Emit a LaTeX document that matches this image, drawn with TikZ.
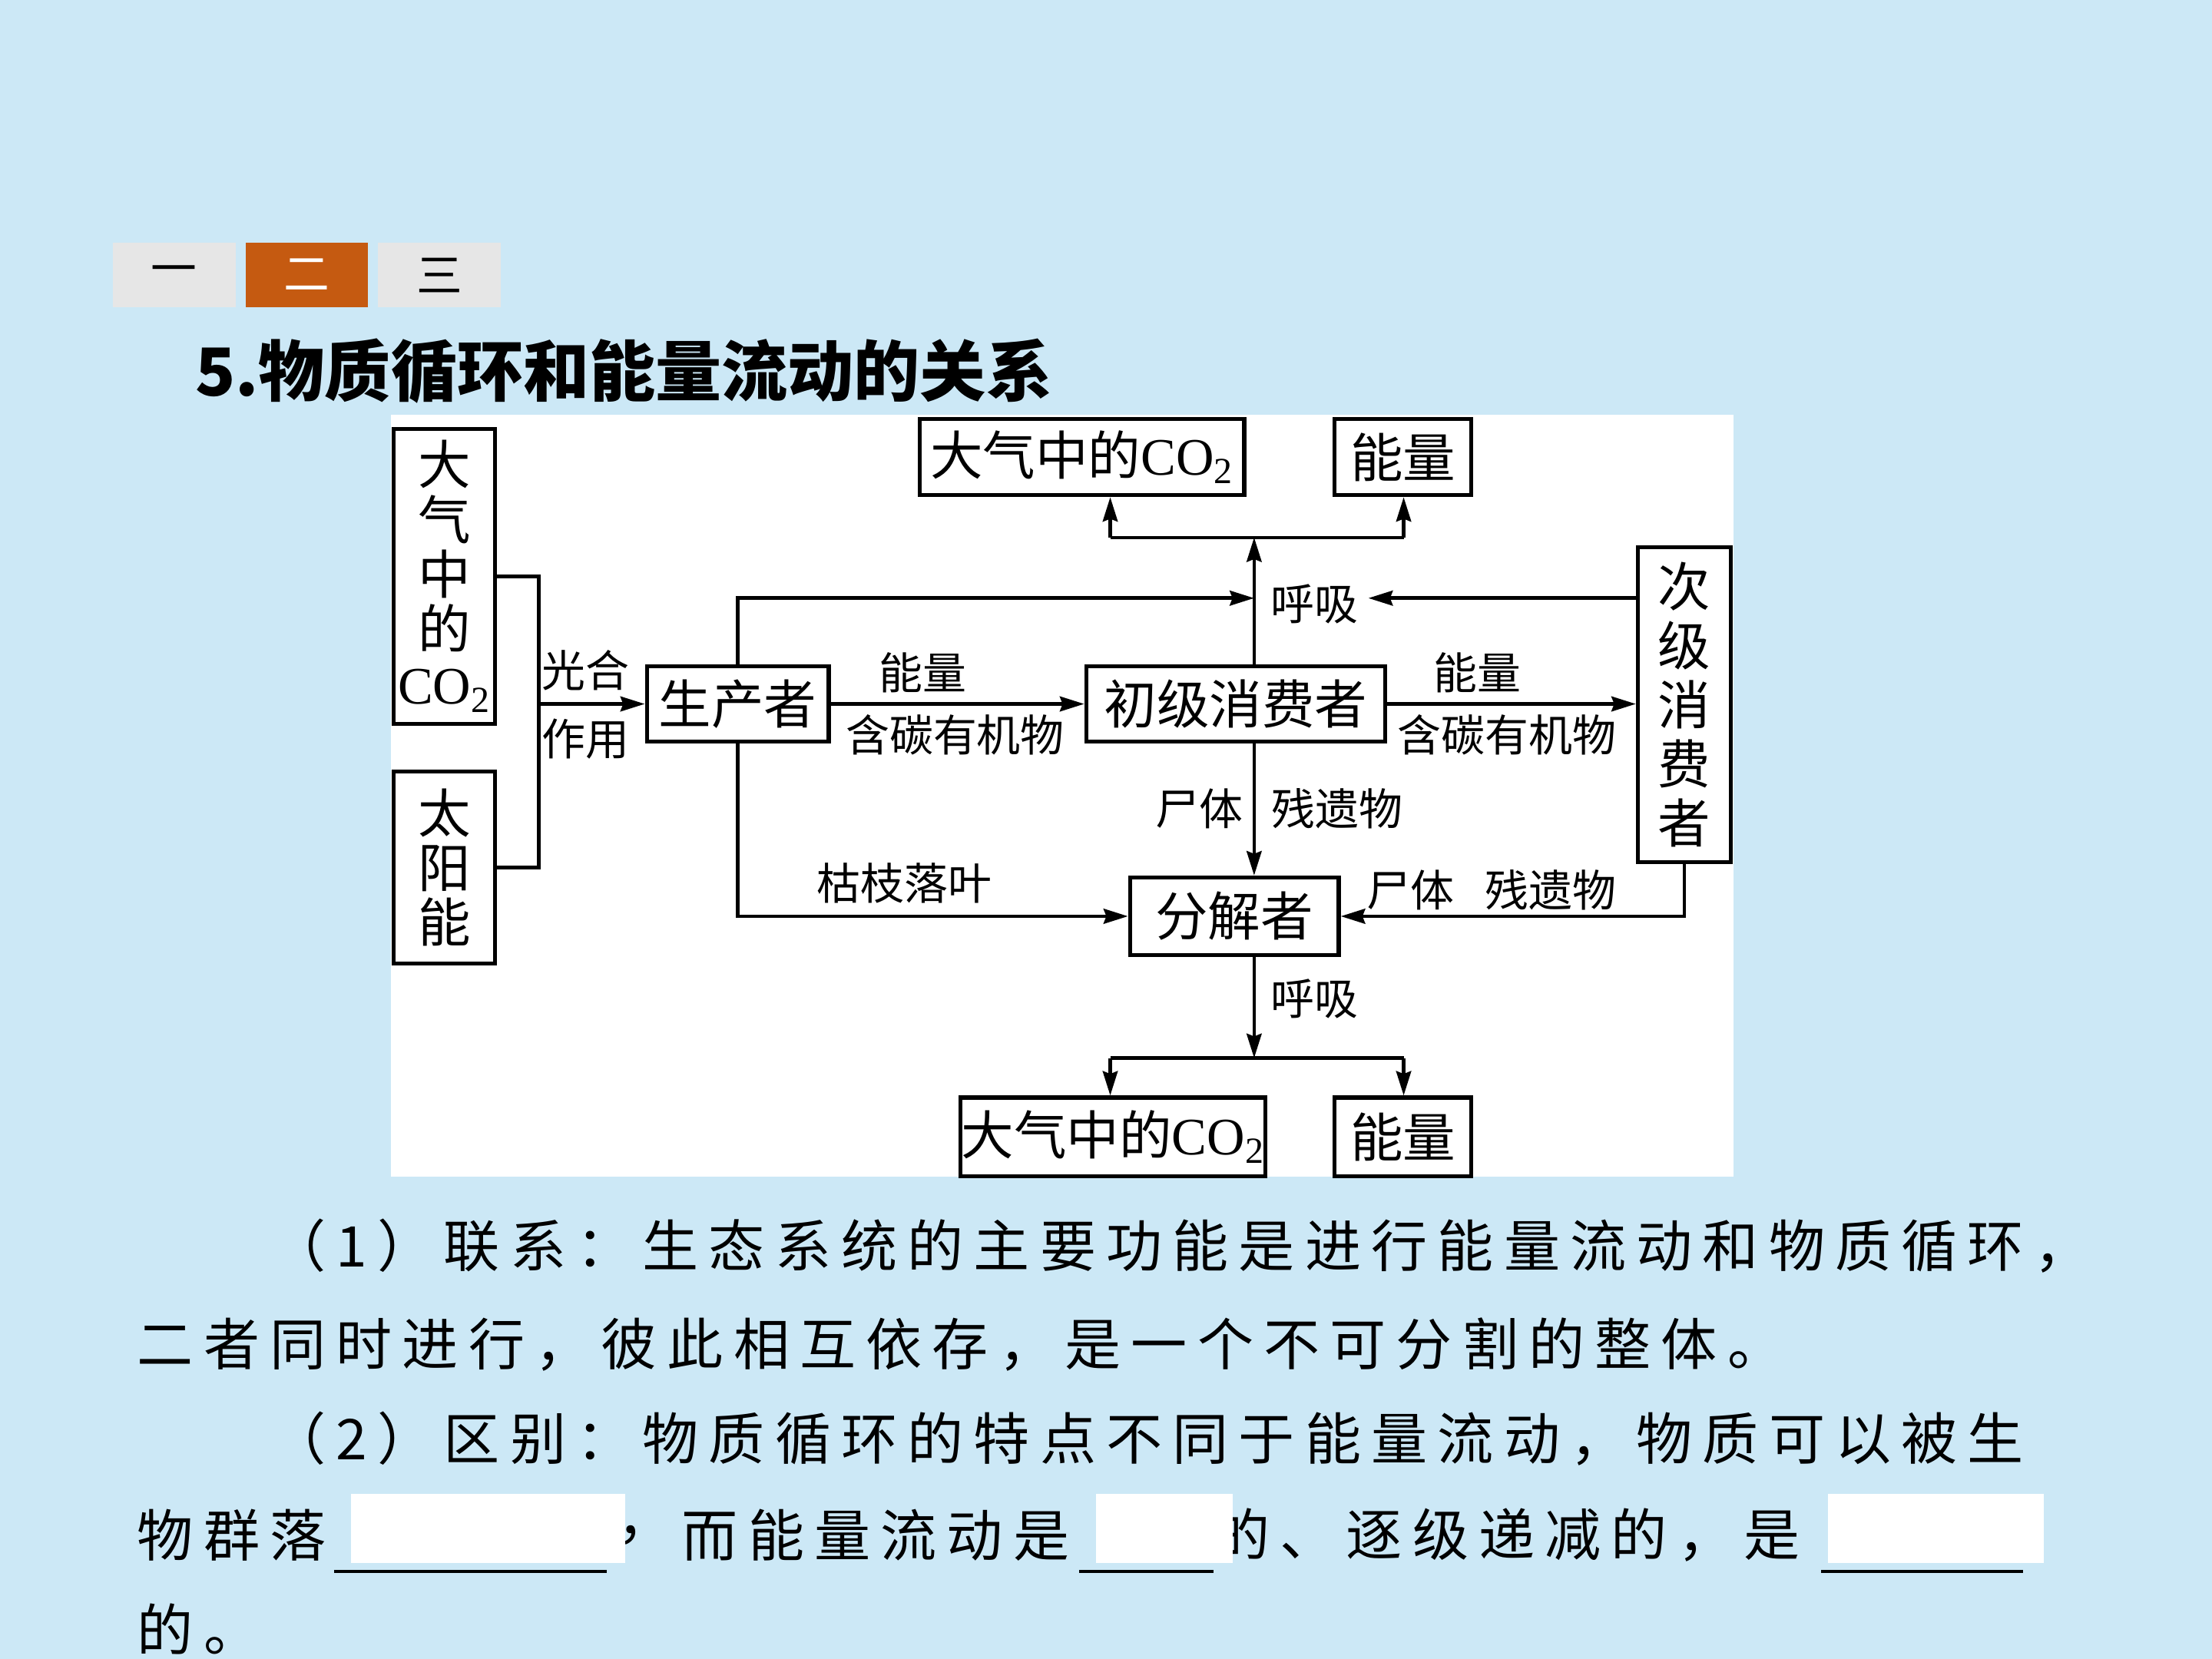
\documentclass[tikz,border=0pt]{standalone}
\usepackage{fontspec}
\setmainfont{Noto Sans CJK SC}
\newfontfamily\latfont{Liberation Serif}
\newfontfamily\bodyfont[LetterSpace=18]{Noto Sans CJK SC}
\usetikzlibrary{arrows.meta,calc}
\definecolor{slideBlue}{RGB}{204,232,246}
\definecolor{tabOrange}{RGB}{197,90,17}
\definecolor{tabGray}{RGB}{230,230,230}
\newcommand\pxu{0.18367mm}
\newcommand\cotwo{{\latfont CO\textsubscript{2}}}
\tikzset{
  blk/.style={draw,line width=1.5pt,fill=white,inner sep=0pt,align=center,
              font=\fontsize{19.5}{20.3}\selectfont},
  lbl/.style={inner sep=0pt,font=\fontsize{16.2}{17}\selectfont},
  link/.style={line width=1.3pt},
  arr/.style={-{Stealth[length=9pt,width=5.5pt,inset=1pt]},line width=1.3pt},
  tabbox/.style={minimum width=87*\pxu,minimum height=46*\pxu,inner sep=0pt,
                 font=\fontsize{17}{17}\selectfont},
  para/.style={anchor=west,inner sep=0pt,font=\bodyfont\fontsize{20.8}{21}\selectfont},
}
\begin{document}
\begin{tikzpicture}[x=\pxu,y=-\pxu]
\fill[slideBlue] (0,0) rectangle (1568,1176);
\useasboundingbox (0,0) rectangle (1568,1176);

% tabs and title
\node[tabbox,fill=tabGray] (tab1) at (123.5,195) {一};
\node[tabbox,fill=tabOrange,text=white] (tab2) at (217.5,195) {二};
\node[tabbox,fill=tabGray] (tab3) at (311.5,195) {三};
\node[anchor=west,inner sep=0pt,font=\bfseries\fontsize{24.5}{25}\selectfont] (title) at (138,263) {5.物质循环和能量流动的关系};

% diagram
\fill[white] (277,294) rectangle (1229,834);
\node[blk,minimum width=72*\pxu,minimum height=209*\pxu] (co2L) at (315,408.5) {大\\气\\中\\的\\\cotwo};
\node[blk,minimum width=72*\pxu,minimum height=136*\pxu] (sun) at (315,615) {太\\阳\\能};
\node[blk,minimum width=129*\pxu,minimum height=53*\pxu] (prod) at (523,499) {生产者};
\node[blk,minimum width=212*\pxu,minimum height=53*\pxu] (prim) at (876,499) {初级消费者};
\node[blk,minimum width=66*\pxu,minimum height=223*\pxu,font=\fontsize{19.5}{21.9}\selectfont] (sec) at (1194,499.5) {次\\级\\消\\费\\者};
\node[blk,minimum width=148*\pxu,minimum height=55*\pxu] (dec) at (875,649.5) {分解者};
\node[blk,minimum width=230*\pxu,minimum height=54*\pxu] (co2T) at (767,324) {大气中的\cotwo};
\node[blk,minimum width=97*\pxu,minimum height=54*\pxu] (engT) at (994.5,324) {能量};
\node[blk,minimum width=216*\pxu,minimum height=56*\pxu] (co2B) at (789,806) {大气中的\cotwo};
\node[blk,minimum width=97*\pxu,minimum height=56*\pxu] (engB) at (994.5,806) {能量};

\coordinate (brk) at (382,499);
\coordinate (upJ) at (889,381);
\coordinate (upL) at (787,381);
\coordinate (upR) at (995,381);
\coordinate (dnJ) at (889,750);
\coordinate (dnL) at (787,750);
\coordinate (dnR) at (995,750);
\coordinate (resp) at (889,424);
\coordinate (respR) at (970,424);

\node[lbl] (gh) at (415,475) {光合};
\node[lbl] (zy) at (415,524) {作用};
\node[lbl] (e1) at (654,477) {能量};
\node[lbl] (c1) at (677,521) {含碳有机物};
\node[lbl] (e2) at (1047,477) {能量};
\node[lbl] (c2) at (1068,521) {含碳有机物};
\node[lbl] (hx1) at (932,428) {呼吸};
\node[lbl] (st1) at (850,573) {尸体};
\node[lbl] (cy1) at (948,573) {残遗物};
\node[lbl] (kz) at (641,626) {枯枝落叶};
\node[lbl] (st2) at (1000,631) {尸体};
\node[lbl] (cy2) at (1099,631) {残遗物};
\node[lbl] (hx2) at (932,708) {呼吸};

\draw[link] (co2L.east) -| (brk) |- (sun.east);
\draw[arr] (brk) -- (prod.west);
\draw[arr] (prod.east) -- (prim.west);
\draw[arr] (prim.east) -- (prim.east -| sec.west);
\draw[arr] (prod.north) |- (resp);
\draw[arr] (sec.west |- resp) -- (respR);
\draw[arr] (prim.north -| upJ) -- (upJ);
\draw[link] (upL) -- (upR);
\draw[arr] (upL) -- (upL |- co2T.south);
\draw[arr] (upR) -- (upR |- engT.south);
\draw[arr] (prim.south -| upJ) -- (dec.north -| upJ);
\draw[arr] (prod.south) |- (dec.west);
\draw[arr] (sec.south) |- (dec.east);
\draw[arr] (dec.south -| dnJ) -- (dnJ);
\draw[link] (dnL) -- (dnR);
\draw[arr] (dnL) -- (dnL |- co2B.north);
\draw[arr] (dnR) -- (dnR |- engB.north);

% text below
\node[para] (p1) at (191,883) {（1）联系：生态系统的主要功能是进行能量流动和物质循环，};
\node[para] (p2) at (97,953) {二者同时进行，彼此相互依存，是一个不可分割的整体。};
\node[para] (p3) at (191,1020) {（2）区别：物质循环的特点不同于能量流动，物质可以被生};
\node[para] (p4a) at (97,1088) {物群落};
\node[para] (p4b) at (437,1088) {，};
\node[para] (p4c) at (483,1088) {而能量流动是};
\node[para] (p4d) at (860,1088) {的、逐级递减的，是};
\node[para] (p5) at (97,1155) {的。};
\draw[link] (237,1114) -- (430,1114);
\draw[link] (765,1114) -- (860,1114);
\draw[link] (1291,1114) -- (1434,1114);
\fill[white] (249,1059) rectangle (443,1108);
\fill[white] (777,1059) rectangle (874,1108);
\fill[white] (1296,1059) rectangle (1449,1108);
\end{tikzpicture}
\end{document}
